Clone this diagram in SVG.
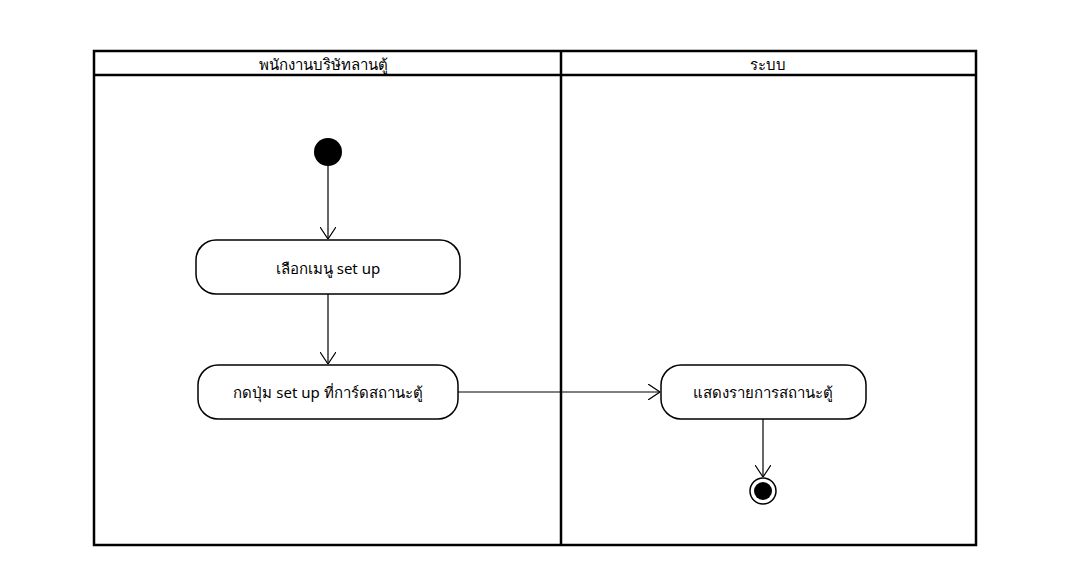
<svg xmlns="http://www.w3.org/2000/svg" width="1076" height="586" viewBox="0 0 1076 586">
<style>
.lane{fill:none;stroke:#000;stroke-width:2.5}
.node{fill:#fff;stroke:#000;stroke-width:1.5}
.t{font-family:"Noto Sans","Liberation Sans",sans-serif;font-size:15px;fill:#000;text-anchor:middle;dominant-baseline:central}
.c{fill:none;stroke:#000;stroke-width:1.2}
</style>
<defs>
<marker id="a" viewBox="0 0 12 16" refX="12" refY="8" markerWidth="12" markerHeight="16" markerUnits="userSpaceOnUse" orient="auto">
<path d="M0,0 L12,8 L0,16" fill="none" stroke="#000" stroke-width="1.2"/>
</marker>
</defs>
<rect width="1076" height="586" fill="#fff"/>
<g id="swimlanes">
<rect class="lane" x="94" y="51" width="882" height="494"/>
<line class="lane" x1="94" y1="75" x2="976" y2="75"/>
<line class="lane" x1="561" y1="51" x2="561" y2="545"/>
<text class="t" x="323" y="64">พนักงานบริษัทลานตู้</text>
<text class="t" x="768" y="64">ระบบ</text>
</g>
<g id="connectors">
<line class="c" x1="328" y1="166" x2="328" y2="239" marker-end="url(#a)"/>
<line class="c" x1="328" y1="294" x2="328" y2="364" marker-end="url(#a)"/>
<line class="c" x1="458" y1="392" x2="660" y2="392" marker-end="url(#a)"/>
<line class="c" x1="763" y1="419" x2="763" y2="477" marker-end="url(#a)"/>
</g>
<g id="start"><circle cx="328" cy="152" r="14" fill="#000"/></g>
<g id="n1">
<rect class="node" x="196" y="240" width="264" height="54" rx="20"/>
<text class="t" x="328" y="268">เลือกเมนู set up</text>
</g>
<g id="n2">
<rect class="node" x="198" y="365" width="260" height="54" rx="20"/>
<text class="t" x="328" y="392">กดปุ่ม set up ที่การ์ดสถานะตู้</text>
</g>
<g id="n3">
<rect class="node" x="661" y="365" width="205" height="54" rx="20"/>
<text class="t" x="763" y="392">แสดงรายการสถานะตู้</text>
</g>
<g id="end">
<circle cx="763" cy="491" r="13" fill="#fff" stroke="#000" stroke-width="1.5"/>
<circle cx="763" cy="491" r="9" fill="#000"/>
</g>
</svg>
